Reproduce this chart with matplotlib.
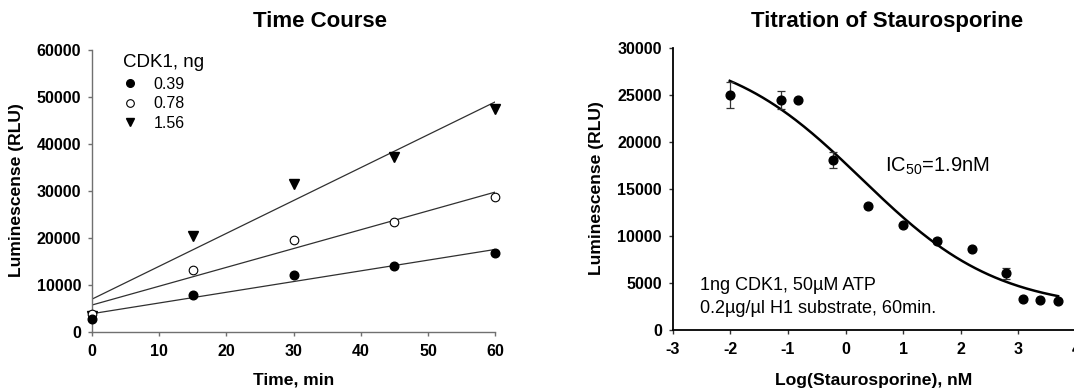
import numpy as np
import matplotlib
matplotlib.use("Agg")
import matplotlib.pyplot as plt
from matplotlib.lines import Line2D

plt.rcParams['font.family'] = ['Liberation Sans', 'DejaVu Sans']
plt.rcParams['mathtext.fontset'] = 'custom'
plt.rcParams['mathtext.rm'] = 'Liberation Sans'
plt.rcParams['axes.unicode_minus'] = False

# ---- Time course data ----
time_min = [0, 15, 30, 45, 60]
cdk_labels = ["0.39", "0.78", "1.56"]
lum_039 = [2700, 7830, 12100, 14020, 16725]
lum_078 = [3770, 13100, 19570, 23340, 28750]
lum_156 = [3300, 20280, 31460, 37220, 47400]
time_xticks = [0, 10, 20, 30, 40, 50, 60]
time_yticks = [0, 10000, 20000, 30000, 40000, 50000, 60000]

# ---- Staurosporine titration ----
log_stauro = [-2.01, -1.12, -0.82, -0.22, 0.39, 0.99, 1.59, 2.19, 2.79, 3.09, 3.38, 3.69]
lum_stauro = [25030, 24495, 24495, 18105, 13240, 11150, 9515, 8660, 6035, 3300, 3160, 3050]
err_stauro = [1370, 920, 150, 890, 200, 150, 300, 100, 620, 100, 100, 100]
fit_top, fit_bottom, fit_logic50, fit_hill = 30100, 2100, 0.28, 0.365
stauro_xticks = [-3, -2, -1, 0, 1, 2, 3, 4]
stauro_yticks = [0, 5000, 10000, 15000, 20000, 25000, 30000]

W, H = 1074, 392
fig = plt.figure(figsize=(W / 100, H / 100), dpi=100)

def px_axes(x0, x1, y_top, y_bot):
    return fig.add_axes([x0 / W, (H - y_bot) / H, (x1 - x0) / W, (y_bot - y_top) / H])

TICK_FS = 11.5

# ================= Left panel =================
ax1 = px_axes(91.7, 495.3, 50.0, 331.7)
gray = '#707070'
x = np.array(time_min, dtype=float)
series = [
    (lum_156, dict(marker='v', color='black', ms=6.5, mec='black', mfc='black')),
    (lum_078, dict(marker='o', color='black', ms=6.2, mec='black', mfc='white', mew=0.8)),
    (lum_039, dict(marker='o', color='black', ms=6.2, mec='black', mfc='black')),
]
for yv, st in series:
    yv = np.array(yv, dtype=float)
    k, b = np.polyfit(x, yv, 1)
    xx = np.array([x.min(), x.max()])
    ax1.plot(xx, k * xx + b, color='#303030', lw=0.9, zorder=2)
for yv, st in series:
    ax1.plot(x, yv, ls='none', zorder=3, clip_on=False, **st)

ax1.set_xlim(0, 60)
ax1.set_ylim(0, 60000)
ax1.set_xticks(time_xticks)
ax1.set_yticks(time_yticks)
for s in ['top', 'right']:
    ax1.spines[s].set_visible(False)
for s in ['left', 'bottom']:
    ax1.spines[s].set_color(gray)
    ax1.spines[s].set_linewidth(1.0)
ax1.tick_params(axis='both', direction='out', length=2.6, width=1.0, color=gray)
ax1.tick_params(axis='x', pad=6)
ax1.tick_params(axis='y', pad=5)
for lab in ax1.get_xticklabels() + ax1.get_yticklabels():
    lab.set_fontsize(TICK_FS)
    lab.set_fontweight('bold')

handles = [
    Line2D([], [], ls='none', marker='o', color='black', mfc='black', ms=5.5),
    Line2D([], [], ls='none', marker='o', color='black', mfc='white', mew=0.8, ms=5.5),
    Line2D([], [], ls='none', marker='v', color='black', mfc='black', ms=5.5),
]
leg = ax1.legend(handles, cdk_labels, title='CDK1, ng', loc='upper left',
                 bbox_to_anchor=(0.078, 0.985), frameon=False, fontsize=11.5,
                 title_fontsize=13.5, handlelength=0.8, handletextpad=1.1,
                 labelspacing=0.28, borderpad=0, borderaxespad=0,
                 alignment='left')
leg._legend_box.sep = 4

fig.text(320 / W, (H - 21.7) / H, 'Time Course', ha='center', va='center',
         fontsize=16, fontweight='bold')
fig.text(294 / W, (H - 380) / H, 'Time, min', ha='center', va='center',
         fontsize=12.6, fontweight='bold')
fig.text(17 / W, (H - 190) / H, 'Luminescense (RLU)', ha='center', va='center',
         rotation=90, fontsize=12.6, fontweight='bold')

# ================= Right panel =================
ax2 = px_axes(672.7, 1075.9, 48.3, 330.0)
xs = np.linspace(min(log_stauro), max(log_stauro), 200)
ys = fit_bottom + (fit_top - fit_bottom) / (1 + 10 ** ((xs - fit_logic50) * fit_hill))
ax2.plot(xs, ys, color='black', lw=1.8, zorder=2)
ax2.errorbar(log_stauro, lum_stauro, yerr=err_stauro, fmt='o', color='black',
             ms=6.3, ecolor='#333333', elinewidth=0.9, capsize=3.2, capthick=0.9,
             zorder=3)
ax2.set_xlim(-3, 4)
ax2.set_ylim(0, 30000)
ax2.set_xticks(stauro_xticks)
ax2.set_yticks(stauro_yticks)
for s in ['top', 'right']:
    ax2.spines[s].set_visible(False)
for s in ['left', 'bottom']:
    ax2.spines[s].set_color('black')
    ax2.spines[s].set_linewidth(1.3)
ax2.tick_params(axis='both', direction='out', length=2.8, width=1.0, color='#333333')
ax2.tick_params(axis='x', pad=6)
ax2.tick_params(axis='y', pad=5)
for lab in ax2.get_xticklabels() + ax2.get_yticklabels():
    lab.set_fontsize(TICK_FS)
    lab.set_fontweight('bold')

ax2.text(0.679, 17391, r'IC$\mathregular{_{50}}$=1.9nM', ha='left', va='center',
         fontsize=14.5)
ax2.text(-2.526, 4792, '1ng CDK1, 50\u00b5M ATP', ha='left', va='center', fontsize=13)
ax2.text(-2.526, 2311, '0.2\u00b5g/\u00b5l H1 substrate, 60min.', ha='left', va='center',
         fontsize=13)

fig.text(887.3 / W, (H - 21.7) / H, 'Titration of Staurosporine', ha='center',
         va='center', fontsize=16, fontweight='bold')
fig.text(874 / W, (H - 380) / H, 'Log(Staurosporine), nM', ha='center', va='center',
         fontsize=12.6, fontweight='bold')
fig.text(596 / W, (H - 188) / H, 'Luminescense (RLU)', ha='center', va='center',
         rotation=90, fontsize=12.6, fontweight='bold')

fig.savefig('out.png', dpi=100)
